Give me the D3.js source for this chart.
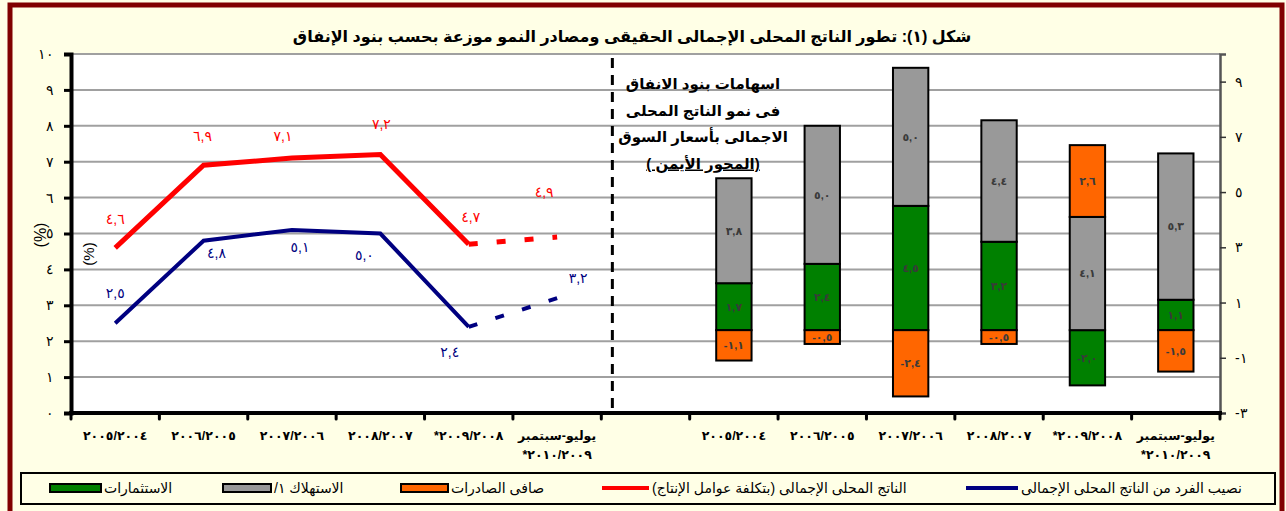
<!DOCTYPE html>
<html>
<head>
<meta charset="utf-8">
<script src="https://cdn.jsdelivr.net/npm/d3@7"></script>
<style>
  body { margin: 0; background: #FFFFE6; }
  svg { display: block; font-family: Arial, "Liberation Sans", "DejaVu Sans", sans-serif; }
</style>
</head>
<body>
<div id="app"></div>
<script>
// categories (left half = lines, right half = stacked bars)
const lineCats = ['٢٠٠٥/٢٠٠٤', '٢٠٠٦/٢٠٠٥', '٢٠٠٧/٢٠٠٦', '٢٠٠٨/٢٠٠٧', '*٢٠٠٩/٢٠٠٨', 'يوليو-سبتمبر|*٢٠١٠/٢٠٠٩'];
const barCats = ['٢٠٠٥/٢٠٠٤', '٢٠٠٦/٢٠٠٥', '٢٠٠٧/٢٠٠٦', '٢٠٠٨/٢٠٠٧', '*٢٠٠٩/٢٠٠٨', 'يوليو-سبتمبر|*٢٠١٠/٢٠٠٩'];

// GDP growth at factor cost (red) and per-capita GDP growth (navy), %
const gdpGrowth = [4.6, 6.9, 7.1, 7.2, 4.7, 4.9];
const perCapita = [2.5, 4.8, 5.1, 5.0, 2.4, 3.2];

// contributions to growth (right axis)
const investment = [1.7, 2.4, 4.5, 3.2, -2.0, 1.1];
const consumption = [3.8, 5.0, 5.0, 4.4, 4.1, 5.3];
const netExports = [-1.1, -0.5, -2.4, -0.5, 2.6, -1.5];

const leftTicks = [0, 1, 2, 3, 4, 5, 6, 7, 8, 9, 10];
const rightTicks = [-3, -1, 1, 3, 5, 7, 9];

// label nudges relative to the point (label centre)
const redNudge = [[0, -29], [-1, -29], [-9, -22], [1, -30], [2, -27], [-13, -45]];
const blueNudge = [[0, -30], [13, 12], [8, 17], [-16, 22], [-19, 25], [21, -20]];

const width = 1286, height = 511;
const pLeft = 71, pRight = 1220, pTop = 54, pBottom = 413;

const toAr = s => String(s).replace(/[0-9]/g, d => '٠١٢٣٤٥٦٧٨٩'[d]).replace('.', ',');
const fmt = v => toAr(v.toFixed(1));

const keys = [...lineCats.map((d, i) => 'L' + i), 'gap', ...barCats.map((d, i) => 'B' + i)];
const x = d3.scaleBand().domain(keys).range([pLeft, pRight]);
const bw = x.bandwidth();
const yL = d3.scaleLinear().domain([0, 10]).range([pBottom, pTop]);
const yR = d3.scaleLinear().domain([-3, 10]).range([pBottom, pTop]);

const svg = d3.select('#app').append('svg')
    .attr('width', width)
    .attr('height', height);

// outer frame
svg.append('rect')
    .attr('x', 10).attr('y', 5)
    .attr('width', 1272).attr('height', 530)
    .attr('fill', '#FFFFE6')
    .attr('stroke', '#800000')
    .attr('stroke-width', 5);

// title
svg.append('text')
    .attr('x', 632).attr('y', 42)
    .attr('direction', 'rtl')
    .attr('text-anchor', 'middle')
    .style('font-size', '16px')
    .style('font-weight', 'bold')
    .text('شكل (١): تطور الناتج المحلى الإجمالى الحقيقى  ومصادر النمو موزعة بحسب بنود الإنفاق');

// plot area
svg.append('rect')
    .attr('x', pLeft).attr('y', pTop)
    .attr('width', pRight - pLeft).attr('height', pBottom - pTop)
    .attr('fill', '#fff');

// gridlines
svg.append('g').selectAll('line')
    .data(leftTicks.filter(d => d > 0))
    .enter().append('line')
    .attr('x1', pLeft).attr('x2', pRight)
    .attr('y1', d => yL(d)).attr('y2', d => yL(d))
    .attr('stroke', '#a0a0a0')
    .attr('stroke-width', 2);

// separator between the two halves
svg.append('line')
    .attr('x1', x('gap') + bw * 0.125).attr('x2', x('gap') + bw * 0.125)
    .attr('y1', pTop + 4).attr('y2', pBottom)
    .attr('stroke', '#000')
    .attr('stroke-width', 3)
    .attr('stroke-dasharray', '10,7');

// stacked bars
const barRows = barCats.map((c, i) => ({ key: 'B' + i, inv: investment[i], cons: consumption[i], exp: netExports[i] }));
const colors = { inv: '#008000', cons: '#999999', exp: '#FF6600' };
const stack = d3.stack().keys(['inv', 'cons', 'exp']).offset(d3.stackOffsetDiverging);
const series = stack(barRows);
const barW = bw * 0.4;

const seg = svg.append('g').selectAll('g')
    .data(series)
    .enter().append('g')
    .attr('fill', s => colors[s.key]);

seg.selectAll('rect')
    .data(s => s.map(d => ({ d, key: s.key })))
    .enter().append('rect')
    .attr('x', p => x(p.d.data.key) + (bw - barW) / 2)
    .attr('y', p => yR(Math.max(p.d[0], p.d[1])))
    .attr('width', barW)
    .attr('height', p => Math.abs(yR(p.d[0]) - yR(p.d[1])))
    .attr('stroke', '#000')
    .attr('stroke-width', 2);

seg.selectAll('text')
    .data(s => s.map(d => ({ d, key: s.key })))
    .enter().append('text')
    .attr('x', p => x(p.d.data.key) + bw / 2)
    .attr('y', p => (yR(p.d[0]) + yR(p.d[1])) / 2)
    .attr('dy', '0.35em')
    .attr('text-anchor', 'middle')
    .attr('fill', '#3a3a3a')
    .style('font-size', '11px')
    .style('font-weight', 'bold')
    .text(p => fmt(p.d.data[p.key]));

// lines
function drawLine(values, color, widthPx, nudge) {
    const pts = values.map((v, i) => [x('L' + i) + bw / 2, yL(v)]);
    const line = d3.line();
    svg.append('path')
        .attr('d', line(pts.slice(0, 5)))
        .attr('fill', 'none')
        .attr('stroke', color)
        .attr('stroke-width', widthPx)
        .attr('stroke-linejoin', 'miter');
    svg.append('path')
        .attr('d', line(pts.slice(4)))
        .attr('fill', 'none')
        .attr('stroke', color)
        .attr('stroke-width', widthPx)
        .attr('stroke-dasharray', '9,19');
    svg.append('g').selectAll('text')
        .data(values)
        .enter().append('text')
        .attr('x', (v, i) => pts[i][0] + nudge[i][0])
        .attr('y', (v, i) => pts[i][1] + nudge[i][1])
        .attr('dy', '0.35em')
        .attr('text-anchor', 'middle')
        .attr('fill', color)
        .style('font-size', '14px')
        .text(v => fmt(v));
}
drawLine(gdpGrowth, '#FF0000', 5, redNudge);
drawLine(perCapita, '#000080', 4, blueNudge);

// left axis
const axL = svg.append('g')
    .attr('transform', `translate(${pLeft},0)`)
    .call(d3.axisLeft(yL).tickValues(leftTicks).tickFormat(toAr).tickSize(7).tickPadding(10));
axL.select('.domain').attr('stroke', '#000').attr('stroke-width', 4);
axL.selectAll('.tick line').attr('stroke', '#000').attr('stroke-width', 3);
axL.selectAll('.tick text').style('font-size', '14px').attr('fill', '#000');

// right axis
const axR = svg.append('g')
    .attr('transform', `translate(${pRight},0)`)
    .call(d3.axisRight(yR).tickValues(rightTicks).tickFormat(d => toAr(d)).tickSize(6).tickPadding(9));
axR.select('.domain').attr('stroke', '#555').attr('stroke-width', 2.5);
axR.selectAll('.tick line').attr('stroke', '#333').attr('stroke-width', 1.5);
axR.selectAll('.tick text').style('font-size', '14px').attr('fill', '#000');

// bottom axis
svg.append('line')
    .attr('x1', pLeft - 2).attr('x2', pRight + 2)
    .attr('y1', pBottom).attr('y2', pBottom)
    .attr('stroke', '#000').attr('stroke-width', 4);
svg.append('g').selectAll('line')
    .data(keys.concat(['end']))
    .enter().append('line')
    .attr('x1', d => d === 'end' ? pRight : x(d))
    .attr('x2', d => d === 'end' ? pRight : x(d))
    .attr('y1', pBottom).attr('y2', pBottom + 6)
    .attr('stroke', '#000').attr('stroke-width', 3)
    .attr('stroke-linecap', 'round');

// category labels
const catLabels = [...lineCats.map((c, i) => ({ key: 'L' + i, c })), ...barCats.map((c, i) => ({ key: 'B' + i, c }))];
const cl = svg.append('g').selectAll('text')
    .data(catLabels)
    .enter().append('text')
    .attr('x', d => x(d.key) + bw / 2)
    .attr('y', 440)
    .attr('text-anchor', 'middle')
    .style('font-size', '12.5px')
    .style('font-weight', 'bold');
cl.selectAll('tspan')
    .data(d => d.c.split('|').map(t => ({ t, x: x(d.key) + bw / 2 })))
    .enter().append('tspan')
    .attr('x', t => t.x)
    .attr('dy', (t, i) => i ? '1.55em' : 0)
    .text(t => t.t);

// (%) labels
[[40, 235, 16], [89, 254, 15]].forEach(([px, py, fs]) => {
    svg.append('text')
        .attr('transform', `translate(${px},${py}) rotate(-90)`)
        .attr('text-anchor', 'middle')
        .attr('dy', '0.35em')
        .style('font-size', fs + 'px')
        .text('(%)');
});

// annotation for the bars
const note = ['اسهامات بنود الانفاق', 'فى نمو الناتج المحلى', 'الاجمالى بأسعار السوق', '(المحور الأيمن )'];
svg.append('g').selectAll('text')
    .data(note)
    .enter().append('text')
    .attr('x', 703)
    .attr('y', (d, i) => 89 + i * 26.5)
    .attr('direction', 'rtl')
    .attr('text-anchor', 'middle')
    .style('font-size', '15px')
    .style('font-weight', 'bold')
    .style('text-decoration', (d, i) => i === 3 ? 'underline' : null)
    .text(d => d);

// legend
svg.append('rect')
    .attr('x', 21).attr('y', 473)
    .attr('width', 1254).attr('height', 31)
    .attr('fill', '#FFFFE6')
    .attr('stroke', '#000')
    .attr('stroke-width', 2);

const legendItems = [
    { type: 'rect', color: colors.inv, label: 'الاستثمارات', x0: 50, x1: 101 },
    { type: 'rect', color: colors.cons, label: 'الاستهلاك ١/', x0: 223, x1: 271 },
    { type: 'rect', color: colors.exp, label: 'صافى الصادرات', x0: 401, x1: 448 },
    { type: 'line', color: '#FF0000', label: 'الناتج المحلى الإجمالى (بتكلفة عوامل الإنتاج)', x0: 602, x1: 649 },
    { type: 'line', color: '#000080', label: 'نصيب الفرد من الناتج المحلى الإجمالى', x0: 966, x1: 1018 }
];
const lg = svg.append('g').selectAll('g')
    .data(legendItems)
    .enter().append('g');
lg.filter(d => d.type === 'rect').append('rect')
    .attr('x', d => d.x0).attr('y', 484)
    .attr('width', d => d.x1 - d.x0).attr('height', 8)
    .attr('fill', d => d.color)
    .attr('stroke', '#000').attr('stroke-width', 2);
lg.filter(d => d.type === 'line').append('line')
    .attr('x1', d => d.x0).attr('x2', d => d.x1)
    .attr('y1', 488).attr('y2', 488)
    .attr('stroke', d => d.color).attr('stroke-width', 4);
lg.append('text')
    .attr('x', d => d.x1 + 3)
    .attr('y', 493)
    .attr('direction', 'rtl')
    .attr('text-anchor', 'end')
    .style('font-size', '14px')
    .text(d => d.label);
</script>
</body>
</html>
